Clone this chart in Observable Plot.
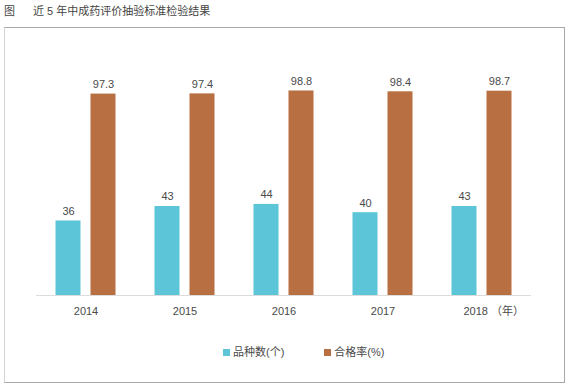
<!DOCTYPE html>
<html>
<head>
<meta charset="utf-8">
<script src="https://cdn.jsdelivr.net/npm/d3@7"></script>
<script src="https://cdn.jsdelivr.net/npm/@observablehq/plot@0.6"></script>
<style>
  body { margin: 0; width: 571px; height: 387px; position: relative; overflow: hidden; background: #fff;
         font-family: "Liberation Sans", "Noto Sans CJK SC", sans-serif; }
  #title { position: absolute; left: 4px; top: 4px; font-size: 11px; line-height: 14px; color: #444; white-space: nowrap; }
  #title .main { margin-left: 18px; }
  #box { position: absolute; left: 4px; top: 27px; width: 559px; height: 354px;
         border: 1px solid #a8a8a8; border-left-color: #d4d4d4; }
  #chart { position: absolute; left: 0; top: 0; }
  #legend { position: absolute; left: 223px; top: 345px; font-size: 11px; line-height: 14px; color: #4a4a4a;
            display: flex; align-items: center; white-space: nowrap; }
  #legend .item { display: flex; align-items: center; }
  #legend .sw { width: 7px; height: 7px; margin-right: 3px; }
</style>
</head>
<body>
<div id="title"><span>图</span><span class="main">近 5 年中成药评价抽验标准检验结果</span></div>
<div id="box"></div>
<div id="chart"></div>
<div id="legend"></div>
<script>
const years = [2014, 2015, 2016, 2017, 2018];
const counts = [36, 43, 44, 40, 43];
const passRates = [97.3, 97.4, 98.8, 98.4, 98.7];
const seriesNames = ["品种数(个)", "合格率(%)"];
const seriesColors = ["#5cc6d8", "#b86f42"];
const yearUnit = "（年）";

const rows = years.flatMap((year, i) => [
  {year, series: seriesNames[0], value: counts[i]},
  {year, series: seriesNames[1], value: passRates[i]}
]);

const font = '"Liberation Sans", "Noto Sans CJK SC", sans-serif';
const lastYear = years[years.length - 1];
const textColor = "#4a4a4a";

const plot = Plot.plot({
  width: 571,
  height: 387,
  marginTop: 88,
  marginBottom: 92,
  marginLeft: 35.5,
  marginRight: 40,
  fx: {domain: years, padding: 0, label: null, axis: null},
  x: {domain: seriesNames, paddingInner: 10 / 36, paddingOuter: 0.515, axis: null},
  y: {domain: [0, 100], axis: null},
  color: {domain: seriesNames, range: seriesColors},
  style: {background: "transparent", fontFamily: font, fontSize: "11px", color: textColor, overflow: "visible"},
  marks: [
    Plot.ruleY([0], {stroke: "#dcdcdc"}),
    Plot.barY(rows, {fx: "year", x: "series", y: "value", fill: "series"}),
    Plot.text(rows, {fx: "year", x: "series", y: "value", text: d => String(d.value),
                     lineAnchor: "bottom", dy: -6, fill: textColor}),
    Plot.text(years.filter(d => d !== lastYear), {fx: d => d, text: d => String(d),
                     frameAnchor: "bottom", lineAnchor: "top", dy: 12, fill: textColor}),
    Plot.text([lastYear], {fx: d => d, text: d => `${d} ${yearUnit}`,
                     frameAnchor: "bottom", textAnchor: "start", lineAnchor: "top", dx: -18.5, dy: 12, fill: textColor})
  ]
});
document.getElementById("chart").appendChild(plot);

const legend = document.getElementById("legend");
seriesNames.forEach((name, i) => {
  const item = document.createElement("div");
  item.className = "item";
  if (i > 0) item.style.marginLeft = "40px";
  const sw = document.createElement("span");
  sw.className = "sw";
  sw.style.background = seriesColors[i];
  const label = document.createElement("span");
  label.textContent = name;
  item.appendChild(sw);
  item.appendChild(label);
  legend.appendChild(item);
});
</script>
</body>
</html>
